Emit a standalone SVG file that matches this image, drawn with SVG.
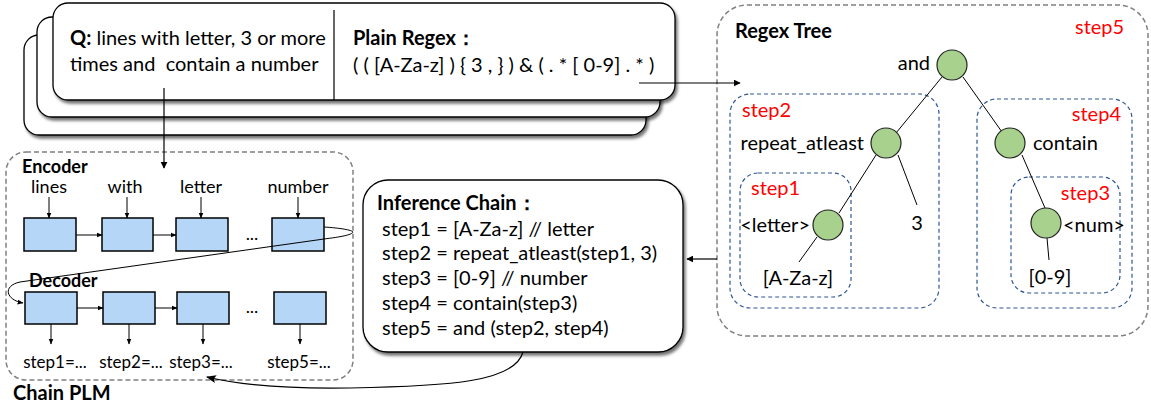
<svg xmlns="http://www.w3.org/2000/svg" width="1151" height="411" viewBox="0 0 1151 411">
<defs>
<filter id="sh" x="-5%" y="-10%" width="110%" height="125%">
<feDropShadow dx="2" dy="3" stdDeviation="1.5" flood-color="#000" flood-opacity="0.55"/>
</filter>
<marker id="ah" viewBox="0 0 10 10" refX="9" refY="5" markerWidth="7" markerHeight="7" orient="auto" markerUnits="userSpaceOnUse">
<path d="M0,0 L10,5 L0,10 Z" fill="#000"/>
</marker>
<marker id="ahs" viewBox="0 0 10 10" refX="9" refY="5" markerWidth="6" markerHeight="6" orient="auto" markerUnits="userSpaceOnUse">
<path d="M0,1 L10,5 L0,9 Z" fill="#000"/>
</marker>
<marker id="ahb" viewBox="0 0 10 10" refX="9" refY="5" markerWidth="12" markerHeight="10" orient="auto" markerUnits="userSpaceOnUse">
<path d="M0,1 L10,5 L0,9 L2,5 Z" fill="#000"/>
</marker>
</defs>
<style>
text{font-family:Lato,"Liberation Sans",sans-serif;fill:#000}
.t{font-size:20px}
.s{font-size:18px}
.o{font-size:17px}
.b{font-weight:bold}
.r{fill:#ff0000}
.card{fill:#fff;stroke:#000;stroke-width:1.3}
.gd{fill:none;stroke:#808080;stroke-width:1.5;stroke-dasharray:5 3}
.bd{fill:none;stroke:#2f5597;stroke-width:1.2;stroke-dasharray:4 3}
.cell{fill:#b6d6f7;stroke:#000;stroke-width:1.5}
.nd{fill:#a9d18e;stroke:#222;stroke-width:1.2}
.ln{stroke:#000;stroke-width:1.2;fill:none}
.ed{stroke:#000;stroke-width:1;fill:none}
</style>

<g id="query-stack">
<rect class="card" x="24" y="35" width="622" height="100" rx="15" filter="url(#sh)"/>
<rect class="card" x="37" y="17" width="623" height="100" rx="15" filter="url(#sh)"/>
<rect class="card" x="53" y="3" width="622" height="97" rx="15" filter="url(#sh)"/>
<line x1="334" y1="10" x2="334" y2="100" stroke="#000" stroke-width="1.2"/>
<text class="t" x="70" y="45" xml:space="preserve"><tspan class="b">Q:</tspan> lines with letter, 3 or more</text>
<text class="t" x="70" y="71" xml:space="preserve">times and  contain a number</text>
<text class="t b" x="353" y="45">Plain Regex：</text>
<text class="t" x="353" y="72">( ( [A-Za-z] ) { 3 , } ) &amp; ( . * [ 0-9] . * )</text>
</g>

<g id="chain-plm">
<rect class="gd" x="6" y="152" width="347" height="228" rx="20"/>
<text class="s b" x="22" y="173">Encoder</text>
<text class="s" x="49" y="193" text-anchor="middle">lines</text>
<text class="s" x="125" y="193" text-anchor="middle">with</text>
<text class="s" x="201" y="193" text-anchor="middle">letter</text>
<text class="s" x="298" y="193" text-anchor="middle">number</text>
<rect class="cell" x="24" y="218" width="52" height="33"/>
<rect class="cell" x="102" y="218" width="51" height="33"/>
<rect class="cell" x="176" y="218" width="52" height="33"/>
<rect class="cell" x="272" y="218" width="52" height="33"/>
<text class="s" x="252" y="240" text-anchor="middle">...</text>
<text class="s b" x="29" y="287">Decoder</text>
<rect class="cell" x="25" y="292" width="52" height="32"/>
<rect class="cell" x="103" y="292" width="52" height="32"/>
<rect class="cell" x="177" y="292" width="52" height="32"/>
<rect class="cell" x="274" y="292" width="52" height="32"/>
<text class="s" x="252" y="313" text-anchor="middle">...</text>
<text class="o" x="55" y="368" text-anchor="middle">step1=...</text>
<text class="o" x="131" y="368" text-anchor="middle">step2=...</text>
<text class="o" x="201" y="368" text-anchor="middle">step3=...</text>
<text class="o" x="299" y="368" text-anchor="middle">step5=...</text>
<text class="t b" x="13" y="400">Chain PLM</text>
</g>

<g id="inference-chain">
<rect class="card" x="363" y="180" width="320" height="172" rx="25" filter="url(#sh)"/>
<text class="t b" x="377" y="210">Inference Chain：</text>
<text class="t" x="382" y="236">step1 = [A-Za-z] // letter</text>
<text class="t" x="382" y="260">step2 = repeat_atleast(step1, 3)</text>
<text class="t" x="382" y="285">step3 = [0-9] // number</text>
<text class="t" x="382" y="310">step4 = contain(step3)</text>
<text class="t" x="382" y="335">step5 = and (step2, step4)</text>
</g>

<g id="regex-tree">
<rect class="gd" x="717" y="5" width="431" height="331" rx="30"/>
<text class="t b" x="735" y="38">Regex Tree</text>
<text class="t r" x="1075" y="34">step5</text>
<rect class="bd" x="730" y="94" width="209" height="214" rx="20"/>
<text class="t r" x="742" y="117">step2</text>
<rect class="bd" x="977" y="99" width="155" height="209" rx="20"/>
<text class="t r" x="1121" y="121" text-anchor="end">step4</text>
<rect class="bd" x="740" y="173" width="111" height="124" rx="18"/>
<text class="t r" x="751" y="195">step1</text>
<rect class="bd" x="1011" y="177" width="109" height="116" rx="18"/>
<text class="t r" x="1110" y="200" text-anchor="end">step3</text>
<line class="ed" x1="942" y1="77" x2="896" y2="133"/>
<line class="ed" x1="963" y1="77" x2="1002" y2="132"/>
<line class="ed" x1="876" y1="155" x2="839" y2="213"/>
<line class="ed" x1="898" y1="155" x2="917" y2="205"/>
<line class="ed" x1="817" y1="237" x2="799" y2="262"/>
<line class="ed" x1="1022" y1="155" x2="1045" y2="208"/>
<line class="ed" x1="1047" y1="238" x2="1049" y2="260"/>
<circle class="nd" cx="952" cy="65" r="15"/>
<circle class="nd" cx="886" cy="143" r="15"/>
<circle class="nd" cx="1010" cy="143" r="15"/>
<circle class="nd" cx="828" cy="225" r="15"/>
<circle class="nd" cx="1046" cy="223" r="15"/>
<text class="t" x="930" y="70" text-anchor="end">and</text>
<text class="t" x="864" y="150" text-anchor="end">repeat_atleast</text>
<text class="t" x="1033" y="150">contain</text>
<text class="t" x="810" y="232" text-anchor="end">&lt;letter&gt;</text>
<text class="t" x="917" y="230" text-anchor="middle">3</text>
<text class="t" x="1063" y="232">&lt;num&gt;</text>
<text class="t" x="798" y="285" text-anchor="middle">[A-Za-z]</text>
<text class="t" x="1050" y="284" text-anchor="middle">[0-9]</text>
</g>

<g id="connectors">
<line class="ln" x1="164" y1="88" x2="164" y2="168" marker-end="url(#ah)"/>
<line class="ln" x1="639" y1="83" x2="740" y2="83" stroke-width="1.5" marker-end="url(#ah)"/>
<line class="ln" x1="717" y1="259" x2="687" y2="259" stroke-width="1.5" marker-end="url(#ah)"/>
<line class="ed" x1="49" y1="197" x2="49" y2="218" marker-end="url(#ahs)"/>
<line class="ed" x1="127" y1="197" x2="127" y2="218" marker-end="url(#ahs)"/>
<line class="ed" x1="201" y1="197" x2="201" y2="218" marker-end="url(#ahs)"/>
<line class="ed" x1="298" y1="197" x2="298" y2="218" marker-end="url(#ahs)"/>
<line class="ed" x1="76" y1="235" x2="102" y2="235" marker-end="url(#ahs)"/>
<line class="ed" x1="153" y1="235" x2="176" y2="235" marker-end="url(#ahs)"/>
<line class="ed" x1="77" y1="308" x2="103" y2="308" marker-end="url(#ahs)"/>
<line class="ed" x1="155" y1="308" x2="177" y2="308" marker-end="url(#ahs)"/>
<line class="ed" x1="51" y1="324" x2="51" y2="344" marker-end="url(#ahs)"/>
<line class="ed" x1="129" y1="324" x2="129" y2="344" marker-end="url(#ahs)"/>
<line class="ed" x1="203" y1="324" x2="203" y2="344" marker-end="url(#ahs)"/>
<line class="ed" x1="300" y1="324" x2="300" y2="344" marker-end="url(#ahs)"/>
<path class="ed" d="M324,227 C340,228 352,230 353,232 C352,235 340,237 324,239 L20,282 C2,286 6,300 23,303" marker-end="url(#ahs)"/>
<path class="ln" stroke-width="2" d="M523,352 C515,382 450,386 350,388 C290,389 240,385 207,377" marker-end="url(#ahb)"/>
</g>
</svg>
